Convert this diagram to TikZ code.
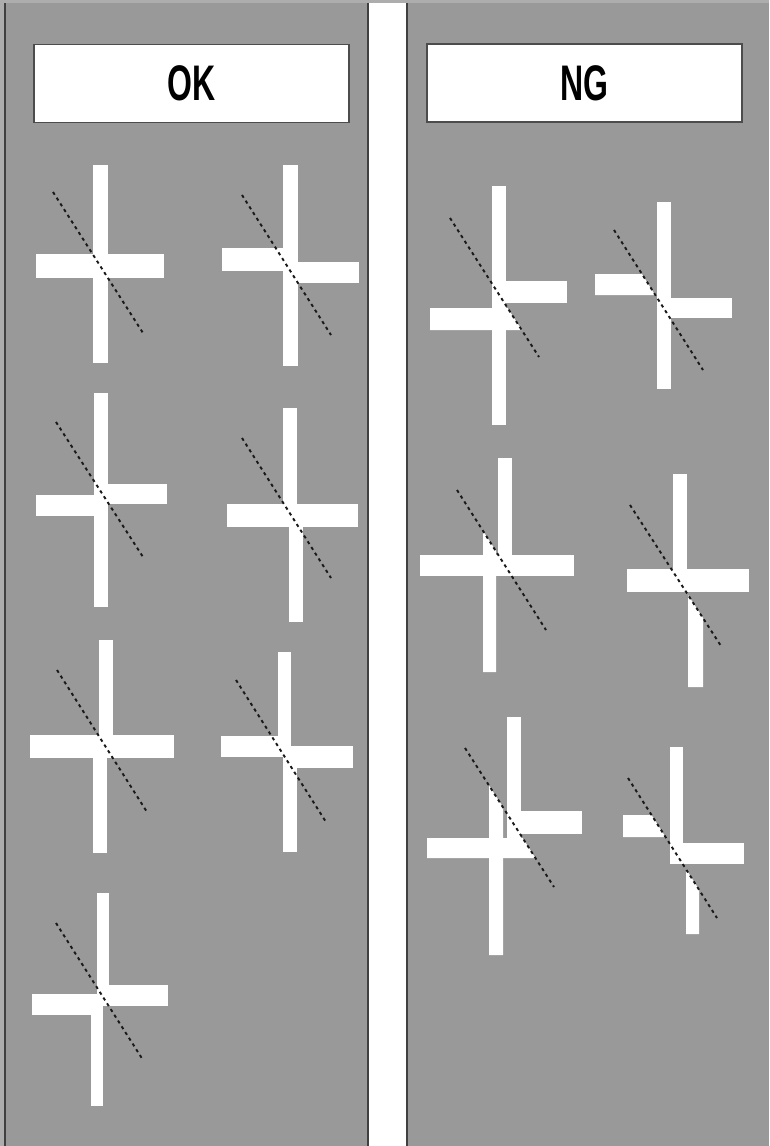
\documentclass[tikz,border=0pt]{standalone}
\usepackage{fontspec}
\setmainfont{Liberation Sans}
\begin{document}
\begin{tikzpicture}[x=1pt,y=-1pt,
  bar/.style={fill=white},
  cut/.style={draw=black!90,line width=1.9pt,dash pattern=on 3.2pt off 3.6pt},
  header/.style={draw=black!70,line width=1.8pt,fill=white,minimum width=315pt,minimum height=78pt,inner sep=0pt,
    font=\bfseries\fontsize{50}{50}\selectfont}]
\useasboundingbox (0,0) rectangle (769,1146);
% background
\fill[black!32] (0,0) rectangle (769,1146);
\fill[white] (368,3) rectangle (407,1146);
\fill[black!40] (5,3) rectangle (368,1146);
\fill[black!40] (407,3) rectangle (769,1146);
\draw[black!75,line width=1.5pt] (5,3) -- (5,1146);
\draw[black!75,line width=1.5pt] (368,3) -- (368,1146);
\draw[black!75,line width=1.5pt] (407,3) -- (407,1146);
% headers
\node[header] (ok) at (191.5,83.5) {\scalebox{0.64}[1]{OK}};
\node[header] (ng) at (584.5,83) {\scalebox{0.64}[1]{NG}};
% ---------- OK column ----------
% L1
\fill[bar] (93,165) rectangle (108,363);
\fill[bar] (36,254) rectangle (164,278);
\draw[cut] (53,192) -- (143,333);
% L2
\fill[bar] (283,165) rectangle (298,366);
\fill[bar] (222,248) rectangle (290,271);
\fill[bar] (290,262) rectangle (359,283);
\draw[cut] (242,195) -- (331,335);
% L3
\fill[bar] (94,393) rectangle (108,607);
\fill[bar] (36,495) rectangle (102,516);
\fill[bar] (100,484) rectangle (167,504);
\draw[cut] (56,422) -- (143,557);
% L4
\fill[bar] (283,408) rectangle (297,515);
\fill[bar] (289,515) rectangle (303,622);
\fill[bar] (227,504) rectangle (358,527);
\draw[cut] (242,438) -- (331,578);
% L5
\fill[bar] (99,640) rectangle (113,746);
\fill[bar] (93,746) rectangle (107,853);
\fill[bar] (30,735) rectangle (174,758);
\draw[cut] (57,670) -- (147,812);
% L6
\fill[bar] (278,652) rectangle (291,750);
\fill[bar] (283,750) rectangle (297,852);
\fill[bar] (221,736) rectangle (287,757);
\fill[bar] (285,746) rectangle (353,768);
\draw[cut] (236,680) -- (326,822);
% L7
\fill[bar] (97,893) rectangle (109,1000);
\fill[bar] (91,1000) rectangle (103,1106);
\fill[bar] (32,994) rectangle (100,1015);
\fill[bar] (100,985) rectangle (168,1006);
\draw[cut] (56,923) -- (143,1060);
% ---------- NG column ----------
% R1
\fill[bar] (492,186) rectangle (506,425);
\fill[bar] (499,281) rectangle (567,303);
\fill[bar] (430,308) -- (507.6,308) -- (521.7,330) -- (430,330) -- cycle;
\draw[cut] (450,218) -- (539,357);
% R2
\fill[bar] (657,202) rectangle (671,389);
\fill[bar] (595,274) -- (642,274) -- (655,295) -- (595,295) -- cycle;
\fill[bar] (664,298) rectangle (732,318);
\draw[cut] (614,230) -- (703,370);
% R3
\fill[bar] (498,458) rectangle (512,565);
\fill[bar] (420,555) rectangle (574,576);
\fill[bar] (483,672) -- (483,531) -- (496,551) -- (496,672) -- cycle;
\draw[cut] (457,490) -- (546,630);
% R4
\fill[bar] (673,474) rectangle (687,580);
\fill[bar] (627,569) rectangle (749,592);
\fill[bar] (688,687) -- (688,595) -- (703,618) -- (703,687) -- cycle;
\draw[cut] (630,505) -- (721,646);
% R5
\fill[bar] (507,717) rectangle (521,846);
\fill[bar] (514,811) rectangle (582,834);
\fill[bar] (427,838) -- (522.6,838) -- (535.4,858) -- (427,858) -- cycle;
\fill[bar] (489,955) -- (489,785.5) -- (503,807) -- (503,955) -- cycle;
\draw[cut] (465,748) -- (554,887);
% R6
\fill[bar] (670,747) rectangle (683,853);
\fill[bar] (670,843) rectangle (744,864);
\fill[bar] (623,815) -- (651.5,815) -- (665.5,837) -- (623,837) -- cycle;
\fill[bar] (686,934) -- (686,869) -- (699,889.6) -- (699,934) -- cycle;
\draw[cut] (628,778) -- (717,918);
\end{tikzpicture}
\end{document}
